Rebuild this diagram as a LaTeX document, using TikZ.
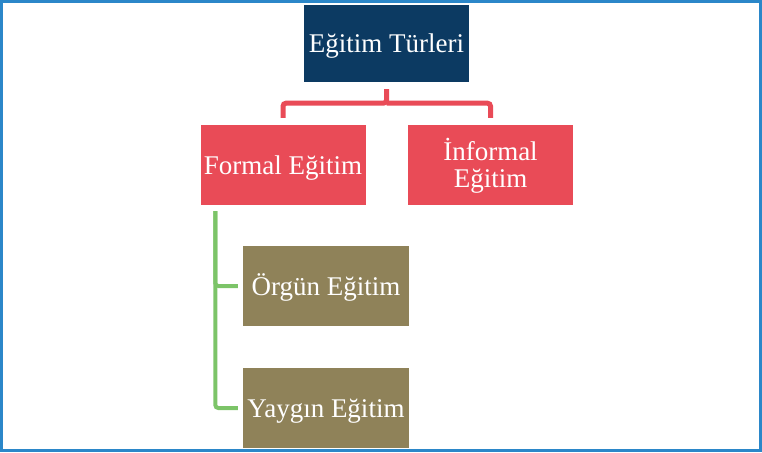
\documentclass[tikz,border=0pt]{standalone}
\usepackage{fontspec}
\setmainfont{Liberation Serif}
\usepackage{tikz}
\usetikzlibrary{calc}
\definecolor{navy}{HTML}{0C3A62}
\definecolor{rosered}{HTML}{E94B57}
\definecolor{khaki}{HTML}{8F8259}
\definecolor{leaf}{HTML}{7CC468}
\definecolor{frameblue}{HTML}{2B87C9}
\begin{document}
\begin{tikzpicture}[x=1pt,y=-1pt,
  box/.style={minimum width=\BW pt, minimum height=\BH pt, inner sep=0pt, text=white,
    font=\fontsize{27}{27}\selectfont, text height=18pt, text depth=0pt, align=center},
  redline/.style={draw=rosered, line width=5pt, rounded corners=3pt},
  greenline/.style={draw=leaf, line width=4pt, rounded corners=3pt}]
\def\BW{165};\def\BH{80};
\useasboundingbox (0,0) rectangle (762,452);
\draw[frameblue, line width=3pt] (1.5,1.5) rectangle (760.5,450.5);
\node (turler) at (386.5,43.5)[box, fill=navy, minimum height=77pt]{Eğitim Türleri};
\node (formal) at (283,165)[box, fill=rosered]{Formal Eğitim};
\node (informal) at (490.5,165)[box, fill=rosered, text height=45pt]{İnformal\\Eğitim};
\node (orgun) at (326,286)[box, fill=khaki, minimum width=166pt]{Örgün Eğitim};
\node (yaygin) at (326,408)[box, fill=khaki, minimum width=166pt]{Yaygın Eğitim};
\coordinate (split) at ($(turler.south)+(0,21)$);
\draw[redline] ([yshift=-7pt]turler.south) -- (split) -| ([yshift=7pt]formal.north);
\draw[redline] (split) -| ([yshift=7pt]informal.north);
\coordinate (stem) at ($(formal.south west)+(15,6)$);
\draw[greenline] (stem) |- ([xshift=-5pt]orgun.west);
\draw[greenline] (stem) |- ([xshift=-5pt]yaygin.west);
\end{tikzpicture}
\end{document}
